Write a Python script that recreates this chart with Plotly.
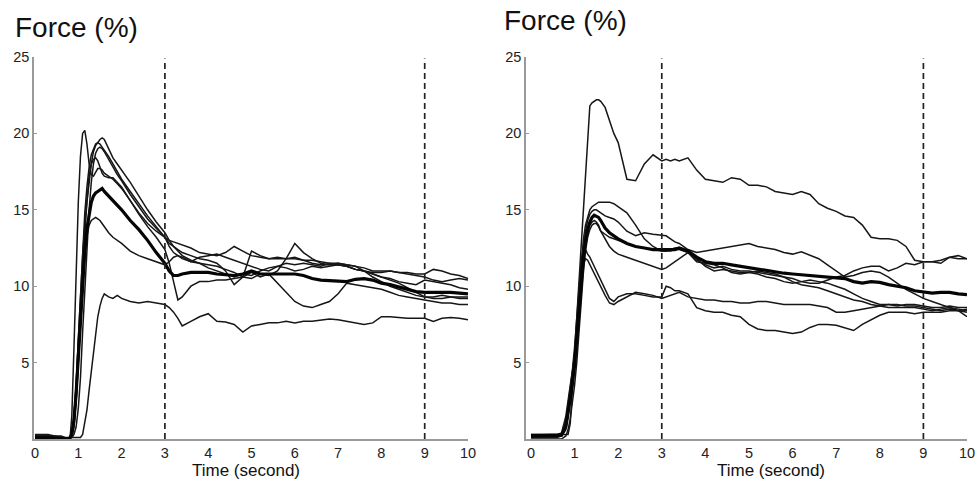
import plotly.graph_objects as go

# ---------------- time grid (seconds) ----------------
time_s = [0, 0.3, 0.6, 0.7, 0.8, 0.85, 0.9, 0.95, 1.0, 1.05, 1.1, 1.15, 1.2, 1.25, 1.3, 1.35, 1.4, 1.45, 1.5, 1.55, 1.6,
          1.7, 1.8, 1.9, 2.0, 2.2, 2.4, 2.6, 2.8, 3.0,
          3.1, 3.2, 3.3, 3.4, 3.6, 3.8, 4.0, 4.2, 4.4, 4.6, 4.8, 5.0, 5.2, 5.4, 5.6, 5.8, 6.0, 6.2, 6.4, 6.6,
          6.8, 7.0, 7.2, 7.4, 7.6, 7.8, 8.0, 8.2, 8.4, 8.6, 8.8, 9.0, 9.2, 9.4, 9.6, 9.8, 10.0]

# ---------------- left panel: individual trials (Force %) ----------------
left_1 = [0.3, 0.3, 0.1, -0.4, -0.3, 1.5, 6.0, 11.5, 15.5, 18.5, 20.0, 20.2, 19.3, 18.0, 17.3, 17.2, 17.5, 17.7, 17.7, 17.6, 17.4,
          17.2, 17.0, 16.7, 16.4, 15.6, 14.8, 14.1, 13.6, 13.2,
          13.0, 12.9, 12.8, 12.7, 12.5, 12.2, 12.1, 12.0, 12.2, 12.6, 12.3, 12.0, 11.9, 11.8, 11.8, 11.8, 11.8, 11.7, 11.7, 11.6,
          11.5, 11.5, 11.4, 11.3, 11.2, 11.0, 11.0, 11.0, 10.9, 10.9, 10.8, 10.8, 11.1, 11.0, 10.8, 10.7, 10.5]
left_2 = [0.2, 0.2, 0.1, 0.0, 0.0, 0.2, 0.8, 2.5, 5.0, 8.0, 11.0, 13.5, 15.5, 17.0, 18.0, 18.8, 19.2, 19.4, 19.6, 19.7, 19.6,
          19.0, 18.4, 18.0, 17.6, 16.8, 15.9, 15.0, 14.2, 13.5,
          13.0, 12.6, 12.4, 12.2, 12.0, 11.8, 11.7, 11.5, 11.0, 10.1, 10.6, 12.3, 12.0, 11.8, 11.9, 11.8, 11.9, 11.7, 11.5, 11.4,
          11.4, 11.5, 11.4, 11.3, 11.0, 10.8, 10.6, 10.5, 10.3, 10.2, 10.1, 10.4, 10.3, 10.2, 10.1, 9.9, 9.8]
left_3 = [0.1, 0.1, 0.0, 0.0, 0.1, 0.5, 1.5, 3.5, 6.5, 9.5, 12.5, 14.8, 16.5, 17.8, 18.6, 19.0, 19.3, 19.4, 19.3, 19.1, 18.9,
          18.5, 18.0, 17.5, 17.0, 16.2, 15.4, 14.6, 13.9, 13.2,
          12.6, 12.2, 12.0, 11.9, 11.6, 11.5, 11.4, 11.3, 11.1, 10.9, 10.6, 10.5, 10.8, 10.7, 11.0, 11.8, 12.8, 12.2, 11.8, 11.5,
          11.4, 11.4, 11.3, 11.1, 11.0, 10.8, 10.6, 10.4, 10.2, 9.9, 9.6, 9.3, 9.2, 9.2, 9.3, 9.3, 9.3]
left_4 = [0.2, 0.2, 0.1, 0.0, 0.0, 0.4, 1.5, 3.5, 6.5, 9.5, 12.0, 14.0, 15.8, 17.2, 18.0, 18.3, 18.4, 18.2, 17.8, 17.4, 17.2,
          17.1, 17.1, 16.8, 16.5, 15.6, 14.7, 13.9, 13.2, 12.4,
          11.5, 10.3, 9.1, 9.3, 10.0, 10.3, 10.3, 10.4, 10.4, 10.5, 10.6, 10.9, 10.6, 10.8, 10.2, 9.6, 9.0, 8.7, 8.6, 8.8,
          9.0, 9.5, 10.2, 10.1, 10.0, 9.9, 9.8, 9.6, 9.4, 9.3, 9.2, 9.1, 9.0, 8.9, 8.9, 8.8, 8.8]
left_5 = [0.0, 0.0, 0.0, 0.0, 0.1, 0.3, 1.0, 2.5, 5.0, 7.5, 10.0, 12.0, 13.3, 14.0, 14.3, 14.4, 14.5, 14.4, 14.3, 14.1, 13.9,
          13.5, 13.2, 13.0, 12.8, 12.3, 12.0, 11.8, 11.6, 11.4,
          11.6, 11.9, 12.0, 11.8, 11.6, 11.9, 12.0, 12.1, 11.9, 11.7, 11.5, 11.3, 11.1, 11.0, 11.3, 11.5, 11.4, 11.5, 11.4, 11.3,
          11.5, 11.4, 11.3, 11.1, 11.0, 10.9, 10.9, 11.0, 10.9, 10.8, 10.7, 10.6, 10.4, 10.3, 10.4, 10.5, 10.4]
left_6 = [0.0, 0.0, -0.1, -0.1, 0.0, 0.1, 0.3, 0.8, 2.0, 4.0, 7.0, 10.0, 12.8, 15.0, 16.8, 18.0, 18.7, 19.0, 19.1, 19.0, 18.8,
          18.3, 17.8, 17.3, 16.9, 16.0, 15.2, 14.4, 13.8, 13.2,
          12.8, 12.6, 12.3, 12.0, 11.7, 11.5, 11.2, 11.0, 10.8, 10.6, 10.8, 10.7, 11.0, 11.2, 11.3, 11.2, 11.0, 11.1, 11.3, 11.2,
          11.3, 11.4, 11.3, 11.1, 11.0, 10.6, 10.3, 10.0, 9.8, 9.6, 9.4, 9.3, 9.3, 9.4, 9.3, 9.2, 9.2]
left_7 = [0.2, 0.2, 0.2, 0.1, 0.1, 0.1, 0.1, 0.1, 0.1, 0.1, 0.3, 1.0, 1.9, 3.2, 4.5, 5.8, 7.0, 8.0, 8.7, 9.2, 9.5,
          9.3, 9.2, 9.4, 9.2, 9.0, 8.9, 9.0, 8.9, 8.8,
          8.6, 8.3, 7.9, 7.4, 7.7, 8.0, 8.2, 7.7, 7.65, 7.5, 7.0, 7.4, 7.5, 7.6, 7.6, 7.7, 7.6, 7.7, 7.7, 7.8,
          7.85, 7.8, 7.7, 7.6, 7.5, 7.6, 8.0, 8.0, 7.95, 7.9, 7.9, 7.9, 7.7, 7.9, 7.95, 7.9, 7.8]
left_mean = [0.1, 0.1, 0.05, 0.0, 0.05, 0.3, 1.2, 3.0, 5.5, 8.0, 10.3, 12.3, 13.8, 14.8, 15.5, 15.9, 16.1, 16.2, 16.3, 16.4, 16.2,
             15.9, 15.6, 15.3, 15.0, 14.3, 13.7, 13.0, 12.2, 11.5,
             11.0, 10.7, 10.7, 10.8, 10.9, 10.9, 10.9, 10.8, 10.75, 10.7, 10.8, 11.0, 10.8, 10.8, 10.8, 10.8, 10.8, 10.7, 10.5, 10.4,
             10.35, 10.3, 10.3, 10.45, 10.5, 10.4, 10.2, 10.1, 9.95, 9.8, 9.65, 9.6, 9.6, 9.65, 9.6, 9.55, 9.5]

# ---------------- right panel: individual trials (Force %) ----------------
right_1 = [0.3, 0.3, 0.3, 0.3, 0.3, 0.3, 1.0, 3.4, 5.8, 8.2, 10.6, 13.0, 15.4, 17.8, 20.2, 21.8, 22.0, 22.1, 22.2, 22.2, 22.1,
           21.7, 20.8, 20.0, 19.4, 17.0, 16.9, 18.0, 18.6, 18.2,
           18.3, 18.2, 18.3, 18.2, 18.4, 17.6, 17.0, 16.9, 16.8, 17.1, 17.0, 16.6, 16.6, 16.5, 16.2, 16.1, 16.0, 16.2, 16.0, 15.4,
           15.1, 14.9, 14.6, 14.5, 14.0, 13.2, 13.1, 13.1, 13.0, 12.6, 11.7, 11.6, 11.6, 11.5, 11.9, 11.8, 11.8]
right_2 = [0.2, 0.2, 0.2, 0.3, 1.0, 2.0, 3.2, 4.3, 5.5, 7.5, 9.5, 11.5, 13.0, 14.0, 14.6, 15.0, 15.2, 15.3, 15.4, 15.5, 15.5,
           15.5, 15.5, 15.4, 15.2, 14.8, 14.0, 13.1, 12.6, 12.3,
           12.3, 12.4, 12.5, 12.5, 12.3, 11.7, 11.4, 11.2, 11.3, 11.1, 11.0, 11.0, 10.9, 10.8, 10.7, 10.6, 10.5, 10.3, 10.2, 10.2,
           10.4, 10.6, 10.7, 11.0, 11.2, 11.3, 11.3, 11.0, 11.2, 11.5, 11.4, 11.6, 11.6, 11.7, 11.9, 12.0, 11.8]
right_3 = [0.2, 0.2, 0.2, 0.2, 0.6, 1.5, 2.8, 4.0, 5.3, 7.0, 9.0, 11.0, 12.5, 13.6, 14.3, 14.7, 14.9, 15.0, 15.0, 14.9, 14.8,
           14.6, 14.5, 14.4, 14.2, 13.6, 13.3, 13.5, 13.4, 13.35,
           13.3, 13.1, 12.9, 12.8, 12.4, 12.2, 12.3, 12.4, 12.5, 12.6, 12.7, 12.8, 12.6, 12.5, 12.4, 12.2, 12.1, 12.25, 12.0, 11.8,
           11.4, 11.0, 10.6, 10.7, 10.9, 11.0, 10.9, 10.6, 10.2, 9.8, 9.5, 9.2, 9.0, 8.8, 8.6, 8.4, 8.0]
right_4 = [0.1, 0.1, 0.1, 0.2, 0.8, 1.8, 3.0, 3.8, 4.8, 6.5, 8.5, 10.5, 12.0, 13.0, 13.6, 14.0, 14.2, 14.3, 14.2, 14.0, 13.6,
           13.1, 12.6, 12.3, 12.1, 11.9, 11.7, 11.5, 11.3, 11.1,
           11.2, 11.4, 11.6, 11.8, 12.2, 11.8, 11.3, 11.0, 11.1, 11.0, 10.9, 10.9, 10.8, 10.6, 10.5, 10.3, 10.2, 10.3, 10.4, 10.3,
           10.2, 10.0, 9.8, 9.5, 9.2, 9.0, 8.8, 8.8, 8.7, 8.8, 8.8, 8.7, 8.6, 8.6, 8.7, 8.6, 8.6]
right_5 = [0.0, 0.0, 0.0, 0.0, 0.2, 0.6, 1.3, 2.3, 3.5, 5.0, 7.0, 9.0, 10.8, 12.3, 13.2, 13.7, 14.0, 14.1, 14.1, 13.9, 13.6,
           13.4, 13.2, 13.1, 13.0, 12.8, 12.6, 12.5, 12.4, 12.3,
           12.3, 12.3, 12.4, 12.4, 12.2, 11.6, 11.5, 11.4, 11.2, 10.9, 10.8, 10.9, 11.0, 10.9, 10.8, 10.6, 10.3, 10.1, 10.0, 9.9,
           9.7, 9.5, 9.3, 9.1, 9.0, 8.8, 8.7, 8.6, 8.6, 8.6, 8.6, 8.5, 8.4, 8.5, 8.6, 8.5, 8.4]
right_6 = [0.3, 0.3, 0.3, 0.4, 1.5, 2.5, 3.5, 4.5, 6.0, 8.0, 10.0, 11.6, 12.5, 12.4, 12.1, 11.9, 11.6, 11.3, 11.0, 10.7, 10.4,
           9.8, 9.2, 9.0, 9.3, 9.5, 9.5, 9.4, 9.3, 9.3,
           10.0, 9.9, 9.7, 9.7, 9.5, 8.6, 8.4, 8.3, 8.3, 8.1, 8.0, 7.5, 7.2, 7.1, 7.1, 7.0, 6.9, 7.0, 7.3, 7.5,
           7.5, 7.45, 7.3, 7.1, 7.5, 7.8, 8.1, 8.3, 8.3, 8.3, 8.2, 8.3, 8.3, 8.3, 8.4, 8.4, 8.5]
right_7 = [0.2, 0.2, 0.2, 0.3, 1.2, 2.2, 3.2, 4.3, 5.5, 7.3, 9.0, 10.5, 11.4, 11.8, 11.7, 11.4, 11.1, 10.8, 10.5, 10.2, 9.9,
           9.4, 8.9, 8.8, 9.0, 9.3, 9.6, 9.5, 9.4, 9.2,
           9.3, 9.4, 9.5, 9.6, 9.3, 9.2, 9.1, 9.1, 9.0, 9.0, 8.9, 8.9, 9.0, 9.0, 8.9, 8.8, 8.8, 8.8, 8.8, 8.7,
           8.6, 8.3, 8.3, 8.4, 8.5, 8.6, 8.7, 8.8, 8.8, 8.7, 8.7, 8.6, 8.5, 8.4, 8.5, 8.4, 8.3]
right_mean = [0.2, 0.2, 0.2, 0.25, 0.8, 1.6, 2.6, 3.6, 4.8, 6.5, 8.4, 10.3, 11.8, 12.9, 13.7, 14.2, 14.5, 14.65, 14.6, 14.5, 14.3,
              13.8, 13.5, 13.3, 13.1, 12.8, 12.6, 12.5, 12.4, 12.4,
              12.4, 12.4, 12.4, 12.5, 12.3, 11.9, 11.6, 11.5, 11.5, 11.4, 11.3, 11.2, 11.1, 11.0, 10.9, 10.85, 10.8, 10.75, 10.7, 10.65,
              10.6, 10.55, 10.5, 10.3, 10.2, 10.3, 10.25, 10.1, 10.0, 9.9, 9.7, 9.6, 9.55, 9.6, 9.6, 9.5, 9.45]

left_trials = [left_1, left_2, left_3, left_4, left_5, left_6, left_7]
right_trials = [right_1, right_2, right_3, right_4, right_5, right_6, right_7]
for s in left_trials + right_trials + [left_mean, right_mean]:
    assert len(s) == len(time_s), len(s)

window_marks = [3, 9]            # dashed analysis-window markers (s)
x_ticks = list(range(0, 11))
y_ticks = [5, 10, 15, 20, 25]
y_title = "Force (%)"
x_title = "Time (second)"

W, H = 977, 485
FONT = "Liberation Sans, Arial, Helvetica, sans-serif"
LINE = "#161616"
AX = "#9a9a9a"

fig = go.Figure()


def add_panel(trials, mean, xa, ya):
    for s in trials:
        fig.add_trace(go.Scatter(x=time_s, y=s, mode="lines", xaxis=xa, yaxis=ya,
                                 line=dict(color=LINE, width=1.5), showlegend=False, hoverinfo="skip"))
    fig.add_trace(go.Scatter(x=time_s, y=mean, mode="lines", xaxis=xa, yaxis=ya,
                             line=dict(color="#050505", width=3.2), showlegend=False, hoverinfo="skip"))
    for m in window_marks:
        fig.add_trace(go.Scatter(x=[m, m], y=[0, 24.9], mode="lines", xaxis=xa, yaxis=ya,
                                 line=dict(color="#222222", width=1.7, dash="6px,4px"),
                                 showlegend=False, hoverinfo="skip"))


add_panel(left_trials, left_mean, "x", "y")
add_panel(right_trials, right_mean, "x2", "y2")

y_dom = [1 - 439 / H, 1 - 57 / H]
xcommon = dict(tickvals=x_ticks, ticktext=[str(v) for v in x_ticks], ticks="", showgrid=False, zeroline=False,
               showline=True, linecolor=AX, linewidth=1.5, automargin=False, ticklabeloverflow="allow",
               tickfont=dict(family=FONT, size=14.5, color="#222"))
ycommon = dict(range=[0, 25], domain=y_dom, tickvals=y_ticks, ticks="inside", ticklen=3, tickcolor=AX,
               showgrid=False, zeroline=False, showline=True, linecolor=AX, linewidth=1.5, automargin=False,
               tickfont=dict(family=FONT, size=14.5, color="#222"))

fig.update_layout(
    width=W, height=H, margin=dict(l=0, r=0, t=0, b=0, pad=0), autosize=False,
    paper_bgcolor="white", plot_bgcolor="white",
    xaxis=dict(domain=[34 / W, 468 / W], range=[-0.023, 10], anchor="y", **xcommon),
    yaxis=dict(anchor="x", **ycommon),
    xaxis2=dict(domain=[526 / W, 967 / W], range=[-0.114, 10], anchor="y2", **xcommon),
    yaxis2=dict(anchor="x2", **ycommon),
    annotations=[
        dict(text=y_title, x=13 / W, y=1 - 27 / H, xref="paper", yref="paper", xanchor="left", yanchor="middle",
             showarrow=False, font=dict(family=FONT, size=28, color="#111")),
        dict(text=y_title, x=502 / W, y=1 - 21 / H, xref="paper", yref="paper", xanchor="left", yanchor="middle",
             showarrow=False, font=dict(family=FONT, size=28, color="#111")),
        dict(text=x_title, x=246 / W, y=1 - 470 / H, xref="paper", yref="paper", xanchor="center", yanchor="middle",
             showarrow=False, font=dict(family=FONT, size=17, color="#111")),
        dict(text=x_title, x=771 / W, y=1 - 470 / H, xref="paper", yref="paper", xanchor="center", yanchor="middle",
             showarrow=False, font=dict(family=FONT, size=17, color="#111")),
    ],
)

fig.write_html(
    "out.html",
    config={"responsive": False, "displayModeBar": False},
    post_script="document.body.style.margin='0';document.body.style.padding='0';document.body.style.overflow='hidden';",
)
